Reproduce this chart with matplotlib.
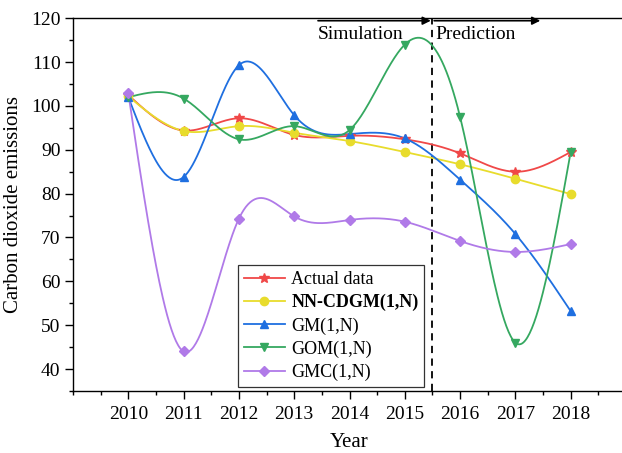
"""Carbon dioxide emissions: actual data vs. grey model fits and forecasts."""

import numpy as np
import matplotlib
matplotlib.use("Agg")
import matplotlib.pyplot as plt
from matplotlib.ticker import MultipleLocator

plt.rcParams["font.family"] = ["Liberation Serif", "DejaVu Serif"]
plt.rcParams["mathtext.fontset"] = "stix"

years = [2010, 2011, 2012, 2013, 2014, 2015, 2016, 2017, 2018]
actual = [102.5, 94.4, 97.2, 93.4, 93.2, 92.4, 89.2, 85.0, 89.5]
nn_cdgm = [102.2, 94.3, 95.4, 93.9, 92.0, 89.5, 86.7, 83.4, 79.9]
gm = [102.0, 83.8, 109.3, 97.9, 93.6, 92.6, 83.2, 70.8, 53.2]
gom = [102.0, 101.7, 92.4, 95.4, 94.5, 114.0, 97.5, 46.0, 89.5]
gmc = [102.9, 44.0, 74.3, 74.8, 74.0, 73.6, 69.2, 66.7, 68.5]

series = [
    ("Actual data", actual, "#f04848", "*", 7, "normal"),
    ("NN-CDGM(1,N)", nn_cdgm, "#e8dc2c", "o", 6, "bold"),
    ("GM(1,N)", gm, "#1f6fe0", "^", 6, "normal"),
    ("GOM(1,N)", gom, "#35a860", "v", 6, "normal"),
    ("GMC(1,N)", gmc, "#b07ae8", "D", 5, "normal"),
]


def natural_spline(x, y, n=400):
    """Natural cubic spline through (x, y), sampled on n points."""
    x = np.asarray(x, float)
    y = np.asarray(y, float)
    k = len(x)
    h = np.diff(x)
    A = np.zeros((k, k))
    r = np.zeros(k)
    A[0, 0] = A[-1, -1] = 1.0
    for i in range(1, k - 1):
        A[i, i - 1] = h[i - 1]
        A[i, i] = 2 * (h[i - 1] + h[i])
        A[i, i + 1] = h[i]
        r[i] = 6 * ((y[i + 1] - y[i]) / h[i] - (y[i] - y[i - 1]) / h[i - 1])
    m = np.linalg.solve(A, r)
    xs = np.linspace(x[0], x[-1], n)
    idx = np.clip(np.searchsorted(x, xs) - 1, 0, k - 2)
    x0, x1 = x[idx], x[idx + 1]
    hh = x1 - x0
    a = (x1 - xs) / hh
    b = (xs - x0) / hh
    ys = (a * y[idx] + b * y[idx + 1]
          + ((a ** 3 - a) * m[idx] + (b ** 3 - b) * m[idx + 1]) * hh ** 2 / 6)
    return xs, ys


fig = plt.figure(figsize=(6.22, 4.53), dpi=100)
ax = fig.add_axes([0.1174, 0.137, 0.889, 0.8226])

for label, vals, color, marker, ms, _ in series:
    xs, ys = natural_spline(years, vals)
    ax.plot(xs, ys, color=color, lw=1.3, zorder=2)
    ax.plot(years, vals, ls="none", marker=marker, ms=ms, color=color, zorder=3)

# legend handles: line with the marker in the middle
handles = [
    plt.Line2D([], [], color=c, lw=1.3, marker=mk, ms=ms)
    for _, _, c, mk, ms, _ in series
]
leg = ax.legend(
    handles, [s[0] for s in series],
    loc="lower left", bbox_to_anchor=(0.298, 0.011),
    fontsize=13, frameon=True, fancybox=False, edgecolor="black",
    borderpad=0.32, labelspacing=0.33, handlelength=2.3, handletextpad=0.35,
    borderaxespad=0.0,
)
leg.get_frame().set_linewidth(0.9)
for txt, s in zip(leg.get_texts(), series):
    txt.set_fontweight(s[5])

# split between simulation and prediction
split = 2015.5
ax.axvline(split, color="black", ls=(0, (4, 3)), lw=1.3, zorder=1)
arrow_y = 119.45
ax.annotate("", xy=(split - 0.03, arrow_y), xytext=(2013.43, arrow_y),
            arrowprops=dict(arrowstyle="-|>", color="black", lw=1.2,
                            mutation_scale=12, shrinkA=0, shrinkB=0))
ax.annotate("", xy=(2017.45, arrow_y), xytext=(split + 0.03, arrow_y),
            arrowprops=dict(arrowstyle="-|>", color="black", lw=1.2,
                            mutation_scale=12, shrinkA=0, shrinkB=0))
ax.text(2013.43, 116.2, "Simulation", fontsize=14, va="center", ha="left")
ax.text(2015.56, 116.2, "Prediction", fontsize=14, va="center", ha="left")

ax.set_xlim(2009, 2019)
ax.set_ylim(35, 120)
ax.set_xticks(years)
ax.xaxis.set_minor_locator(MultipleLocator(0.5))
ax.yaxis.set_minor_locator(MultipleLocator(5))
ax.set_yticks(np.arange(40, 121, 10))
ax.tick_params(axis="both", which="major", direction="out", length=6,
               width=1, labelsize=14)
ax.tick_params(axis="both", which="minor", direction="out", length=3, width=1)
ax.tick_params(axis="x", pad=5)
ax.tick_params(axis="y", pad=3)
ax.spines["right"].set_visible(False)
for side in ("left", "bottom", "top"):
    ax.spines[side].set_linewidth(1.0)

ax.set_xlabel("Year", fontsize=15, labelpad=7)
ax.set_ylabel("Carbon dioxide emissions", fontsize=15, labelpad=6)

fig.savefig("out.png", dpi=100)
